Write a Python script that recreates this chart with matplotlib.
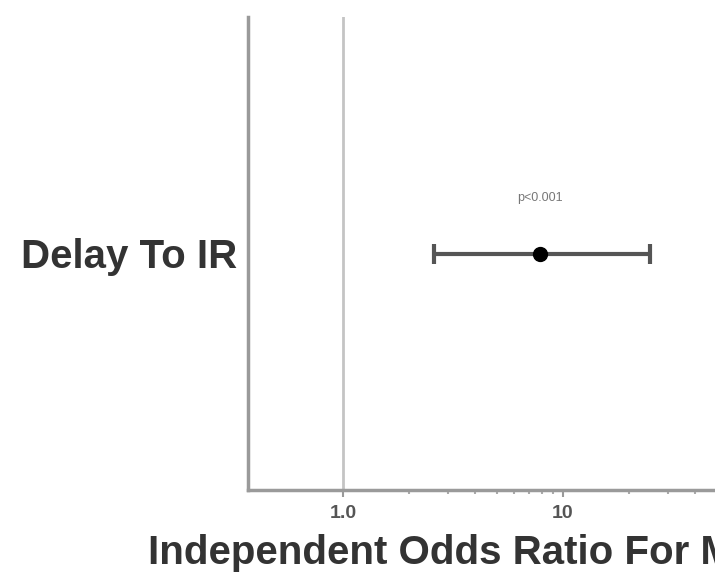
import matplotlib.pyplot as plt
import numpy as np

# Forest plot values (odds ratio with 95% CI)
labels = ['Delay To IR']
odds_ratio = [7.9]
ci_low = [2.6]
ci_high = [24.8]
p_text = ['p<0.001']

xticks = [1.0, 10]
xtick_labels = ['1.0', '10']
minor_ticks = [2, 3, 4, 5, 6, 7, 8, 9, 20, 30, 40, 50, 60, 70, 80]

plt.rcParams['font.family'] = ['Liberation Sans', 'DejaVu Sans']

fig = plt.figure(figsize=(7.15, 5.87), dpi=100)
# axes runs past the right edge of the figure, like the cropped original
ax = fig.add_axes([248 / 715, 1 - 490 / 587, 520 / 715, (490 - 17) / 587])
ax.set_xscale('log')

y = np.arange(len(labels))
or_arr = np.array(odds_ratio)
err = [or_arr - np.array(ci_low), np.array(ci_high) - or_arr]

# reference line at OR = 1
ax.axvline(1.0, color='#c4c4c4', lw=2, zorder=1)

ax.errorbar(or_arr, y, xerr=err, fmt='o', color='black', ms=10,
            ecolor='#555555', elinewidth=3, capsize=7, capthick=3, zorder=3)

for xi, yi, t in zip(or_arr, y, p_text):
    ax.annotate(t, xy=(xi, yi), xytext=(0, 40), textcoords='offset points',
                ha='center', va='center', fontsize=9, color='#777777')

ax.set_xlim(0.37, 85.5)
ax.set_ylim(-1, 1)

ax.set_yticks(y)
ax.set_yticklabels(labels, fontsize=29, fontweight='bold', color='#333333')
ax.tick_params(axis='y', length=0, pad=8)

ax.set_xticks(xticks)
ax.set_xticklabels(xtick_labels, fontsize=14, fontweight='bold', color='#555555')
ax.set_xticks(minor_ticks, minor=True)
ax.set_xticklabels([], minor=True)
ax.tick_params(axis='x', which='major', length=5, width=1.5, color='#999999', pad=6)
ax.tick_params(axis='x', which='minor', length=3, width=1.5, color='#aaaaaa')

for s in ['top', 'right']:
    ax.spines[s].set_visible(False)
for s in ['left', 'bottom']:
    ax.spines[s].set_color('#9a9a9a')
    ax.spines[s].set_linewidth(2.5)

fig.text(148 / 715, 1 - 553 / 587, 'Independent Odds Ratio For Mortality',
         ha='left', va='center', fontsize=29, fontweight='bold', color='#333333')

fig.savefig('out.png', dpi=100)
